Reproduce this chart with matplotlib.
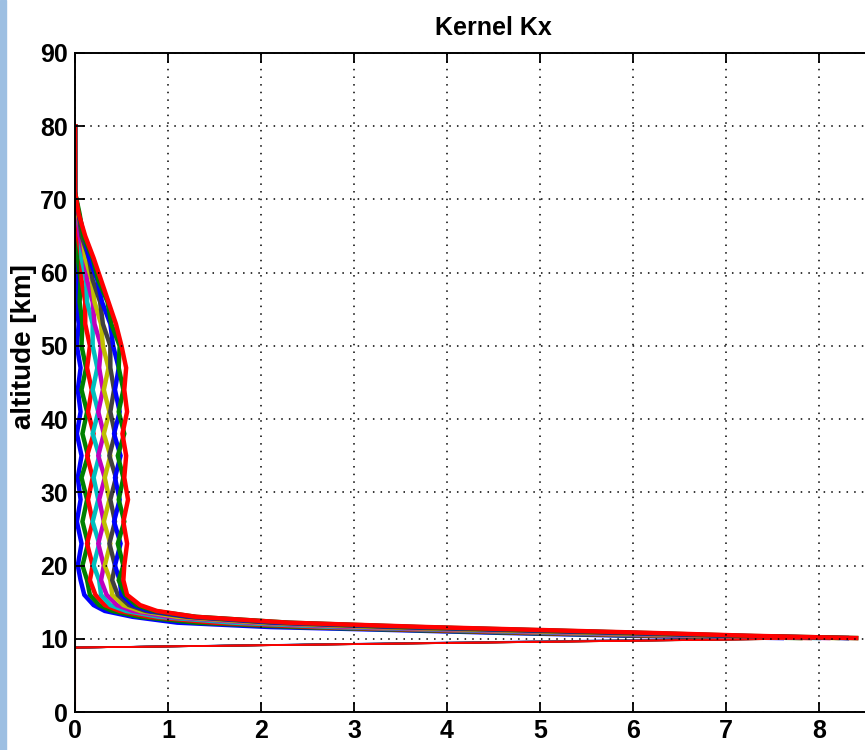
import matplotlib
matplotlib.use("Agg")
import matplotlib.pyplot as plt
from matplotlib.patches import Rectangle

# altitude grid [km] shared by all kernel columns
alt = [0, 8.8, 10.1, 10.4, 10.8, 11.2, 11.6, 12.2, 13.0, 13.8, 14.6, 16, 18, 20, 23, 26,
       29, 32, 35, 38, 41, 44, 47, 50, 53, 56, 59, 62, 65, 68, 71, 80]

# kernel columns, inner -> outer
k0 = [0, 0, 7.6, 6.0, 4.6, 3.4, 2.1, 1.1, 0.62, 0.32, 0.20, 0.10, 0.06, 0.03, 0.07, 0.02,
      0.06, 0.03, 0.07, 0.02, 0.06, 0.03, 0.06, 0.02, 0.04, 0.01, 0.03, 0.01, 0.01, 0.0, 0, 0]
k1 = [0, 0, 7.8, 6.2, 4.8, 3.6, 2.4, 1.3, 0.70, 0.40, 0.26, 0.16, 0.13, 0.08, 0.14, 0.08,
      0.13, 0.07, 0.14, 0.08, 0.13, 0.07, 0.12, 0.07, 0.08, 0.05, 0.06, 0.03, 0.03, 0.01, 0, 0]
k2 = [0, 0, 7.9, 6.4, 5.0, 3.8, 2.6, 1.5, 0.80, 0.48, 0.32, 0.22, 0.16, 0.19, 0.13, 0.19,
      0.14, 0.19, 0.13, 0.20, 0.14, 0.18, 0.13, 0.16, 0.11, 0.11, 0.07, 0.07, 0.03, 0.02, 0, 0]
k3 = [0, 0, 8.0, 6.6, 5.2, 4.0, 2.8, 1.7, 0.90, 0.55, 0.38, 0.28, 0.26, 0.20, 0.26, 0.19,
      0.25, 0.20, 0.26, 0.19, 0.25, 0.19, 0.24, 0.19, 0.19, 0.13, 0.12, 0.07, 0.06, 0.02, 0, 0]
k4 = [0, 0, 8.1, 6.7, 5.4, 4.2, 3.0, 1.9, 1.00, 0.62, 0.45, 0.34, 0.28, 0.31, 0.25, 0.31,
      0.26, 0.32, 0.25, 0.31, 0.25, 0.30, 0.26, 0.28, 0.21, 0.19, 0.13, 0.11, 0.05, 0.03, 0, 0]
k5 = [0, 0, 8.2, 6.9, 5.6, 4.4, 3.2, 2.0, 1.10, 0.70, 0.52, 0.40, 0.38, 0.32, 0.38, 0.31,
      0.37, 0.32, 0.38, 0.31, 0.37, 0.31, 0.36, 0.30, 0.28, 0.21, 0.18, 0.11, 0.08, 0.03, 0, 0]
k6 = [0, 0, 8.3, 7.0, 5.8, 4.6, 3.4, 2.1, 1.20, 0.76, 0.58, 0.46, 0.40, 0.43, 0.37, 0.43,
      0.38, 0.44, 0.37, 0.43, 0.38, 0.42, 0.38, 0.38, 0.30, 0.27, 0.19, 0.15, 0.07, 0.04, 0, 0]
k7 = [0, 0, 8.3, 7.1, 6.0, 4.8, 3.6, 2.2, 1.25, 0.80, 0.62, 0.50, 0.48, 0.43, 0.49, 0.42,
      0.48, 0.43, 0.49, 0.42, 0.48, 0.43, 0.47, 0.41, 0.38, 0.29, 0.24, 0.15, 0.10, 0.04, 0, 0]
k8 = [0, 0, 8.4, 7.2, 6.1, 4.9, 3.7, 2.3, 1.30, 0.85, 0.66, 0.54, 0.47, 0.52, 0.46, 0.53,
      0.47, 0.52, 0.46, 0.53, 0.47, 0.52, 0.47, 0.48, 0.39, 0.35, 0.25, 0.19, 0.09, 0.05, 0, 0]
k9 = [0, 0, 8.4, 7.3, 6.2, 5.0, 3.8, 2.3, 1.30, 0.88, 0.70, 0.56, 0.52, 0.53, 0.56, 0.52,
      0.57, 0.53, 0.55, 0.51, 0.56, 0.53, 0.55, 0.50, 0.44, 0.36, 0.28, 0.20, 0.11, 0.04, 0, 0]
k_top = [0] * len(alt)

kernels = [k0, k1, k2, k3, k4, k5, k6, k7, k8, k9]

xticks = [0, 1, 2, 3, 4, 5, 6, 7, 8]
yticks = [0, 10, 20, 30, 40, 50, 60, 70, 80, 90]

# matlab default line colours
ml_colors = [(0, 0, 1), (0, 0.5, 0), (1, 0, 0), (0, 0.75, 0.75),
             (0.75, 0, 0.75), (0.75, 0.75, 0), (0.25, 0.25, 0.25)]

plt.rcParams['font.family'] = ['Liberation Sans', 'DejaVu Sans']
plt.rcParams['font.weight'] = 'bold'

fig = plt.figure(figsize=(8.65, 7.5), dpi=100)
fig.add_artist(Rectangle((0, 0), 6 / 865, 1, transform=fig.transFigure,
                         color='#9dbfe2', zorder=0))
ax = fig.add_axes([75 / 865, 38 / 750, 837 / 865, 659 / 750])

# lower part of every column (up to the peak) is a thin line
for i, k in enumerate(kernels):
  ax.plot(k[:3], alt[:3], color=ml_colors[i % 7], lw=1.2)
# upper part drawn thicker so the columns fill the band
for i, k in enumerate(kernels):
  ax.plot(k[2:], alt[2:], color=ml_colors[i % 7], lw=3.2, solid_joinstyle='miter')
ax.plot(k_top, alt, color='red', lw=1.5)
ax.plot(k9[:3], alt[:3], color='red', lw=1.2)

ax.set_xlim(0, 9)
ax.set_ylim(0, 90)
ax.set_xticks(xticks)
ax.set_yticks(yticks)
ax.grid(True, color='black', linestyle=(0, (1, 4)), lw=1.1)
ax.set_axisbelow(False)
ax.tick_params(direction='in', length=7, width=1.3, top=True, right=True,
               labelsize=18, pad=5)
for lab in ax.get_xticklabels() + ax.get_yticklabels():
  lab.set_fontweight('bold')
for s in ax.spines.values():
  s.set_linewidth(1.4)

ax.set_ylabel('altitude [km]', fontsize=20, fontweight='bold')
ax.yaxis.set_label_coords(-0.045, 0.554)
ax.set_title('Kernel Kx', fontsize=18, fontweight='bold', pad=13)

fig.savefig('out.png', dpi=100)
